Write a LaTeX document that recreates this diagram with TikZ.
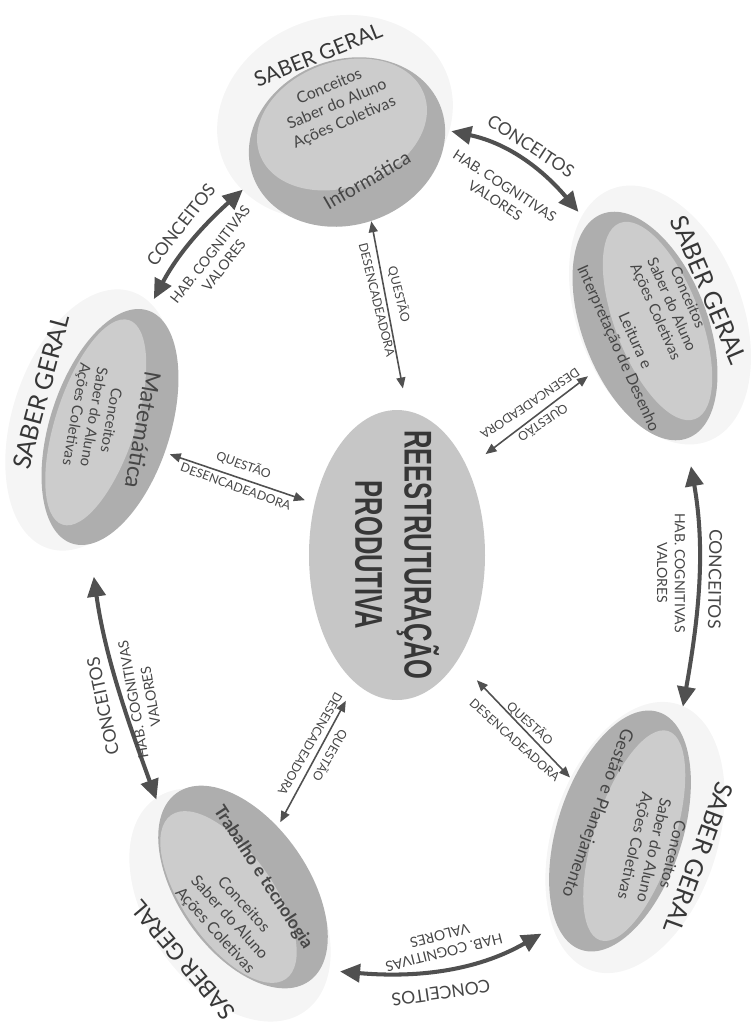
\documentclass[tikz,border=0pt]{standalone}
\usepackage{fontspec}
\setmainfont{Lato}
\newfontfamily\hubfont[FakeStretch=0.66]{Liberation Sans}
\usetikzlibrary{shapes, arrows.meta, positioning, calc}

\definecolor{ink}{RGB}{70, 70, 70}
\definecolor{hubtext}{RGB}{55, 55, 55}
\definecolor{arrowgray}{RGB}{80, 80, 80}
\definecolor{discdark}{RGB}{174, 174, 174}
\definecolor{disclight}{RGB}{204, 204, 204}
\definecolor{hubgray}{RGB}{198, 198, 198}
\definecolor{halogray}{RGB}{245, 245, 245}

\tikzset{
  halo/.style={ellipse, fill=halogray, inner sep=0pt},
  disc/.style={ellipse, fill=discdark, inner sep=0pt},
  discin/.style={ellipse, fill=disclight, inner sep=0pt},
  saber/.style={text=hubtext, font=\fontsize{14}{16}\selectfont},
  items/.style={text=ink, align=center, font=\fontsize{9}{11}\selectfont},
  topic/.style={text=ink, align=center, font=\fontsize{10}{12.5}\selectfont},
  caplabel/.style={text=ink, font=\fontsize{10}{12}\selectfont},
  sublabel/.style={text=ink, align=center, font=\fontsize{8}{10}\selectfont},
  qlabel/.style={text=ink, align=center, font=\fontsize{7}{13}\selectfont},
  bigarrow/.style={draw=arrowgray, line width=2.3pt, arrows={Triangle[length=4mm,width=3.6mm]-Triangle[length=4mm,width=3.6mm]}},
  qarrow/.style={draw=arrowgray, line width=0.9pt, arrows={Triangle[length=2.2mm,width=1.8mm]-Triangle[length=2.2mm,width=1.8mm]}},
}

\begin{document}
\begin{tikzpicture}
  \useasboundingbox (0,0) rectangle (15.1,-20.6);

  % halos
  \node[halo, minimum width=4.8cm, minimum height=4.0cm, rotate=20] (infhalo) at (6.7,-2.35) {};
  \node[halo, minimum width=5.4cm, minimum height=3.3cm, rotate=-69] (leihalo) at (13.2,-6.3) {};
  \node[halo, minimum width=5.4cm, minimum height=3.1cm, rotate=72] (mathalo) at (1.8,-8.4) {};
  \node[halo, minimum width=5.2cm, minimum height=3.3cm, rotate=-55] (trahalo) at (4.6,-18.1) {};
  \node[halo, minimum width=5.6cm, minimum height=3.3cm, rotate=72] (geshalo) at (12.7,-16.75) {};

  % Informatica
  \node[disc, minimum width=4.0cm, minimum height=3.3cm, rotate=20] (inf) at (6.94,-2.84) {};
  \node[discin, minimum width=3.5cm, minimum height=2.5cm, rotate=20] (infin) at (6.84,-2.49) {};
  \node[saber, font=\fontsize{12}{14}\selectfont, rotate=22] (infsaber) at (6.36,-1.1) {SABER GERAL};
  \node[items, rotate=23] (infitems) at (6.74,-2.1) {Conceitos\\Saber do Aluno\\Ações Coletivas};
  \node[topic, font=\fontsize{11}{13}\selectfont, rotate=30] (inftopic) at (7.34,-3.6) {Informática};

  % Leitura
  \node[disc, minimum width=4.8cm, minimum height=2.5cm, rotate=-69] (lei) at (12.9,-6.52) {};
  \node[discin, minimum width=4.2cm, minimum height=1.7cm, rotate=-69] (leiin) at (13.15,-6.42) {};
  \node[saber, rotate=-67] (leisaber) at (14.18,-5.8) {SABER GERAL};
  \node[items, font=\fontsize{8.5}{10}\selectfont, rotate=-66] (leiitems) at (13.42,-6.1) {Conceitos\\Saber do Aluno\\Ações Coletivas};
  \node[topic, font=\fontsize{9}{10.5}\selectfont, rotate=-66] (leitopic) at (12.52,-6.9) {Leitura e\\Interpretação de Desenho};

  % Matematica
  \node[disc, minimum width=4.9cm, minimum height=2.4cm, rotate=72] (mat) at (2.2,-8.54) {};
  \node[discin, minimum width=4.3cm, minimum height=1.6cm, rotate=72] (matin) at (1.915,-8.447) {};
  \node[saber, rotate=75] (matsaber) at (0.82,-7.84) {SABER GERAL};
  \node[topic, font=\fontsize{13}{15}\selectfont, rotate=-100] (mattopic) at (2.86,-8.6) {Matemática};
  \node[items, font=\fontsize{8.5}{10}\selectfont, rotate=-100] (matitems) at (1.86,-8.34) {Conceitos\\Saber do Aluno\\Ações Coletivas};

  % Trabalho
  \node[disc, minimum width=4.6cm, minimum height=2.6cm, rotate=-55] (tra) at (4.86,-17.74) {};
  \node[discin, minimum width=4.0cm, minimum height=1.8cm, rotate=-55] (train) at (4.57,-17.94) {};
  \node[saber, font=\fontsize{13}{15}\selectfont, rotate=130] (trasaber) at (3.66,-19.2) {SABER GERAL};
  \node[topic, font=\bfseries\fontsize{10}{12}\selectfont, rotate=-57] (tratopic) at (5.26,-17.55) {Trabalho e tecnologia};
  \node[items, rotate=-48] (traitems) at (4.58,-18.36) {Conceitos\\Saber do Aluno\\Ações Coletivas};

  % Gestao
  \node[disc, minimum width=5.0cm, minimum height=2.5cm, rotate=72] (ges) at (12.4,-16.62) {};
  \node[discin, minimum width=4.4cm, minimum height=1.6cm, rotate=72] (gesin) at (12.685,-16.713) {};
  \node[saber, rotate=-110] (gessaber) at (13.98,-17.15) {SABER GERAL};
  \node[topic, rotate=-110] (gestopic) at (11.94,-16.26) {Gestão e Planejamento};
  \node[items, rotate=-103] (gesitems) at (13.06,-17.0) {Conceitos\\Saber do Aluno\\Ações Coletivas};

  % centre
  \node[ellipse, fill=hubgray, minimum width=3.52cm, minimum height=5.8cm, inner sep=0pt] (cen) at (7.94,-11.1) {};
  \node[text=hubtext, align=center, font=\hubfont\bfseries\fontsize{22}{28}\selectfont, rotate=-90] (centext) at (7.94,-11.1) {REESTRUTURAÇÃO\\PRODUTIVA};

  % outer arrows
  \draw[bigarrow, shorten <=0.25cm, shorten >=0.3cm] (mat.0) to[out=62, in=222] (inf.182);
  \draw[bigarrow, shorten <=0.12cm, shorten >=0.3cm] (inf.347) to[out=-12, in=130] (lei.188);
  \draw[bigarrow, shorten <=0.55cm, shorten >=0.45cm] (lei.359) to[out=-80, in=80] (ges.348);
  \draw[bigarrow, shorten <=0.35cm, shorten >=0.4cm] (ges.164) to[out=210, in=-5] (tra.8);
  \draw[bigarrow, shorten <=0.65cm, shorten >=0.3cm] (mat.188) to[out=-82, in=110] (tra.193);

  \node[caplabel, rotate=52] (aconc) at (3.62,-4.5) {CONCEITOS};
  \node[sublabel, rotate=52] (ahab) at (4.34,-5.2) {HAB. COGNITIVAS\\VALORES};
  \node[caplabel, rotate=-33] (bconc) at (10.62,-2.92) {CONCEITOS};
  \node[sublabel, rotate=-33] (bhab) at (10.0,-3.86) {HAB. COGNITIVAS\\VALORES};
  \node[caplabel, rotate=-91] (cconc) at (14.3,-11.58) {CONCEITOS};
  \node[sublabel, rotate=-90] (chab) at (13.42,-11.46) {HAB. COGNITIVAS\\VALORES};
  \node[caplabel, rotate=188] (dconc) at (8.82,-19.86) {CONCEITOS};
  \node[sublabel, rotate=194] (dhab) at (8.84,-18.88) {HAB. COGNITIVAS\\VALORES};
  \node[caplabel, rotate=102] (econc) at (2.06,-14.12) {CONCEITOS};
  \node[sublabel, rotate=100] (ehab) at (2.84,-13.96) {HAB. COGNITIVAS\\VALORES};

  % inner arrows
  \draw[qarrow, shorten >=0.45cm] (inf.267) -- (cen.86);
  \draw[qarrow, shorten <=0.2cm, shorten >=0.45cm] (lei.291) -- (cen.51);
  \draw[qarrow, shorten <=0.1cm, shorten >=0.2cm] (mat.263) -- (cen.148);
  \draw[qarrow, shorten <=0.4cm, shorten >=0.1cm] (cen.252) -- (tra.115);
  \draw[qarrow, shorten <=0.55cm, shorten >=0.08cm] (cen.300) -- (ges.61);

  \node[qlabel, rotate=-76] (fq) at (7.78,-5.94) {QUESTÃO\\DESENCADEADORA};
  \node[qlabel, rotate=214] (gq) at (10.74,-8.28) {QUESTÃO\\DESENCADEADORA};
  \node[qlabel, rotate=-20] (hq) at (4.8,-9.5) {QUESTÃO\\DESENCADEADORA};
  \node[qlabel, rotate=-120] (iq) at (6.42,-15.0) {QUESTÃO\\DESENCADEADORA};
  \node[qlabel, rotate=-42] (jq) at (10.46,-14.62) {QUESTÃO\\DESENCADEADORA};
\end{tikzpicture}
\end{document}
